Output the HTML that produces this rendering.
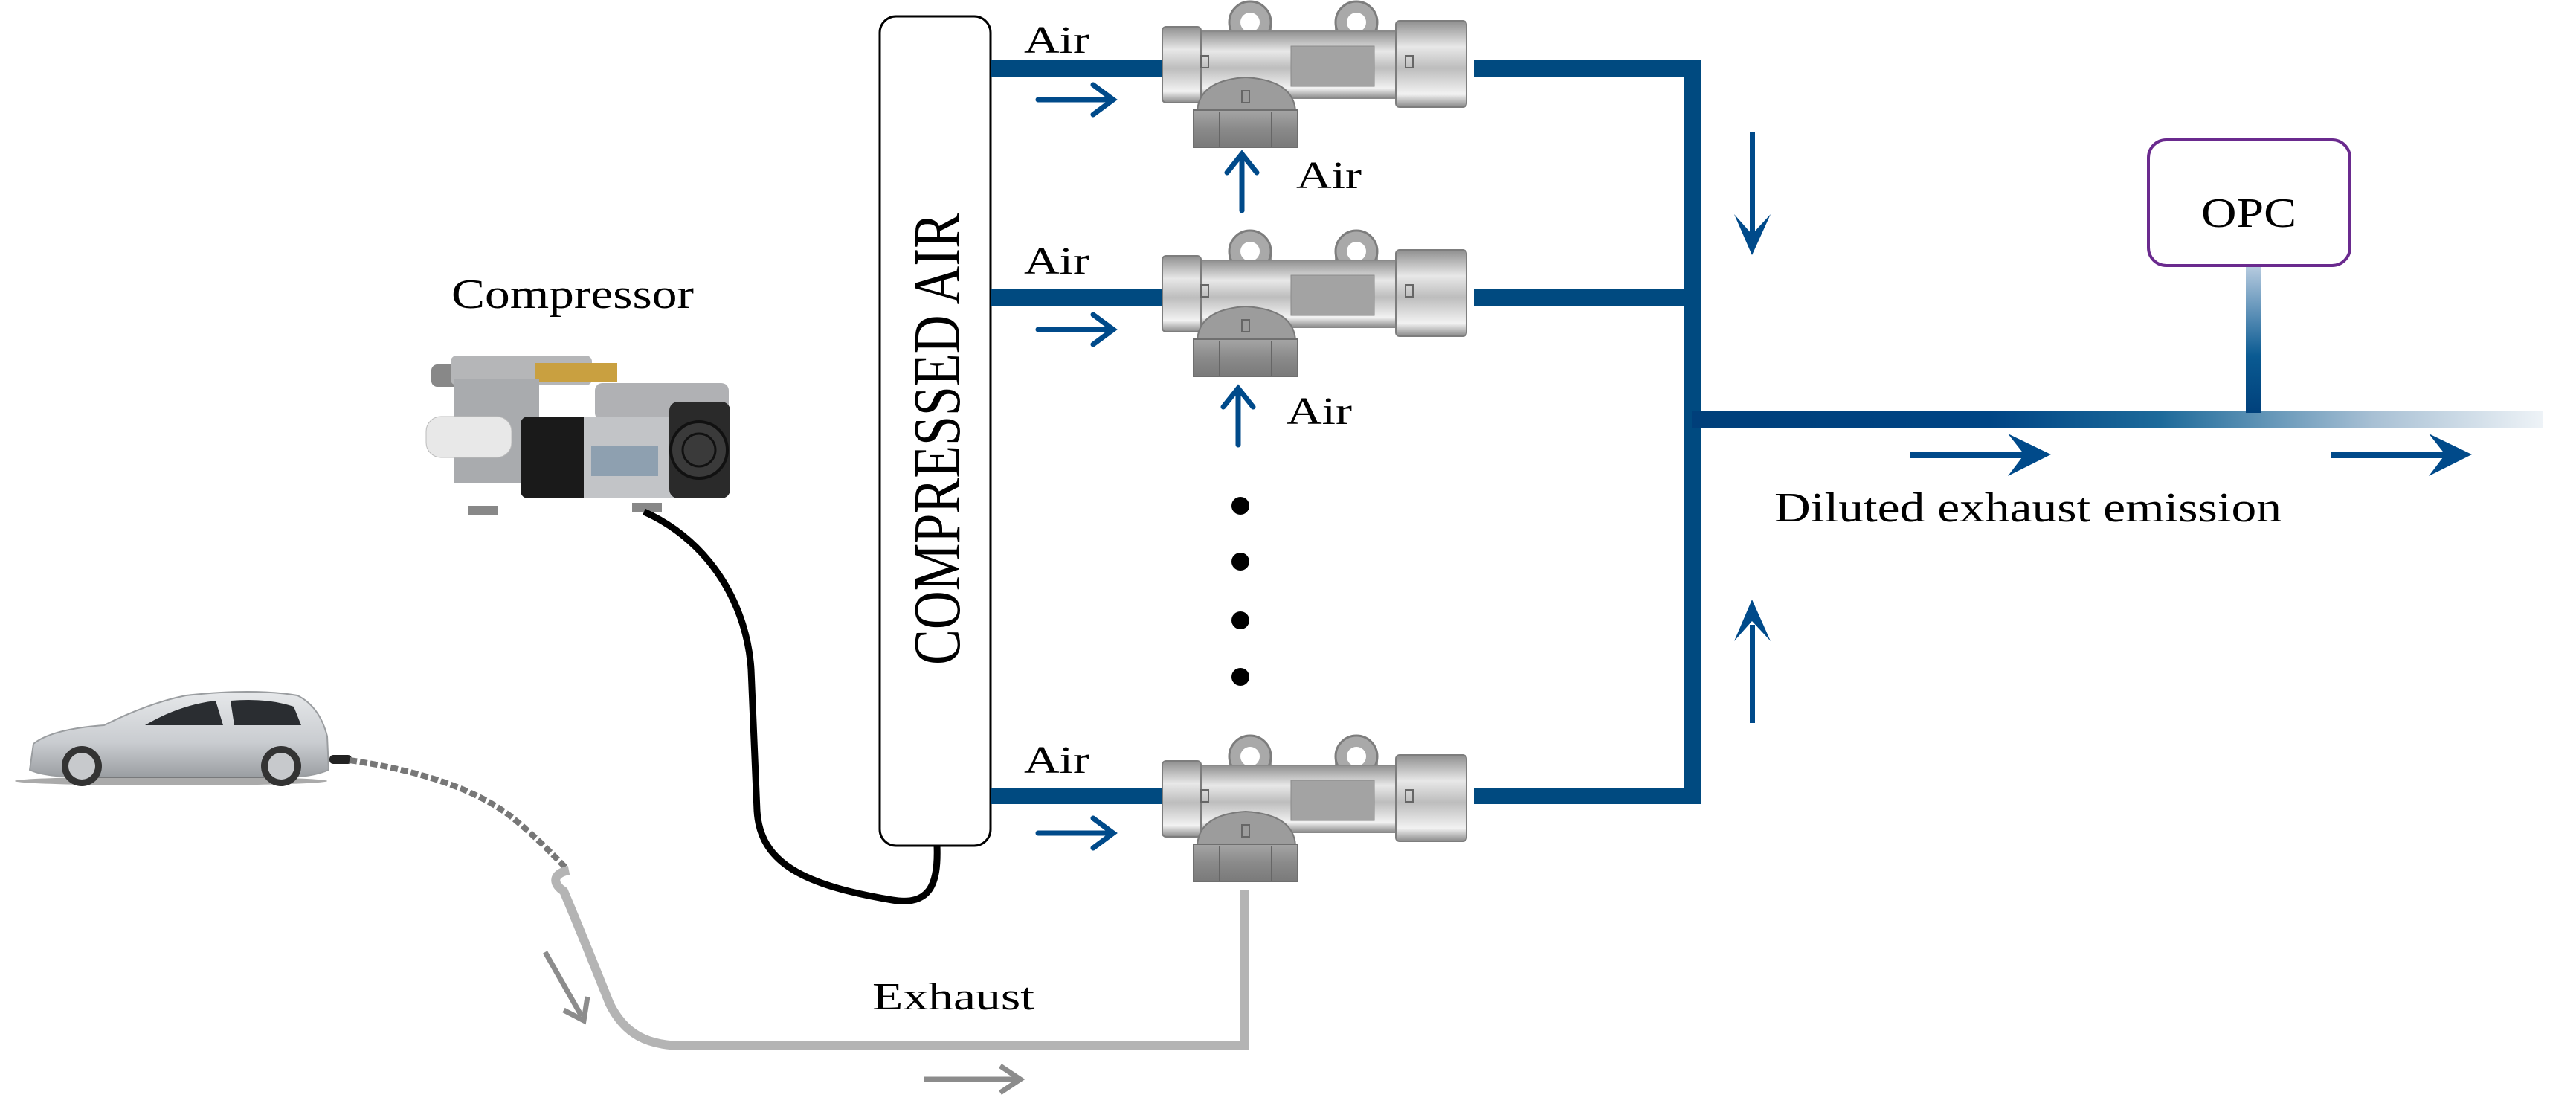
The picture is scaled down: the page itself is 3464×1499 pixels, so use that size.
<!DOCTYPE html>
<html><head><meta charset="utf-8"><style>html,body{margin:0;padding:0;background:#fff;}svg{display:block}svg text{font-family:"Liberation Serif","Times New Roman",serif;}</style></head>
<body>
<svg width="3464" height="1499" viewBox="0 0 3464 1499" xmlns="http://www.w3.org/2000/svg">
<defs>
<linearGradient id="mainG" x1="2275" y1="0" x2="3420" y2="0" gradientUnits="userSpaceOnUse">
<stop offset="0" stop-color="#003f7a"/><stop offset="0.35" stop-color="#004585"/><stop offset="0.55" stop-color="#1d6a9a"/><stop offset="0.8" stop-color="#a8c0d4"/><stop offset="1" stop-color="#eef3f7"/></linearGradient>
<linearGradient id="stemG" x1="0" y1="357" x2="0" y2="560" gradientUnits="userSpaceOnUse">
<stop offset="0" stop-color="#b8cce0"/><stop offset="0.6" stop-color="#0a5a92"/><stop offset="1" stop-color="#003f7a"/></linearGradient>
<linearGradient id="vb" x1="0" y1="0" x2="0" y2="1">
<stop offset="0" stop-color="#8f8f8f"/><stop offset="0.3" stop-color="#e8e8e8"/><stop offset="0.55" stop-color="#bdbdbd"/><stop offset="0.85" stop-color="#f2f2f2"/><stop offset="1" stop-color="#8a8a8a"/></linearGradient>
<linearGradient id="vc" x1="0" y1="0" x2="0" y2="1">
<stop offset="0" stop-color="#a5a5a5"/><stop offset="0.5" stop-color="#8a8a8a"/><stop offset="1" stop-color="#7a7a7a"/></linearGradient>
<linearGradient id="carG" x1="0" y1="0" x2="0" y2="1">
<stop offset="0" stop-color="#e6e8ea"/><stop offset="0.6" stop-color="#c9ccd0"/><stop offset="1" stop-color="#9a9ea2"/></linearGradient>
<g id="valve">
<rect x="1652" y="30" width="58" height="28" fill="#9a9a9a"/>
<circle cx="1681" cy="30" r="28" fill="#a9a9a9" stroke="#7d7d7d" stroke-width="3"/>
<circle cx="1681" cy="30" r="13" fill="#fff"/>
<rect x="1795" y="30" width="58" height="28" fill="#9a9a9a"/>
<circle cx="1824" cy="30" r="28" fill="#a9a9a9" stroke="#7d7d7d" stroke-width="3"/>
<circle cx="1824" cy="30" r="13" fill="#fff"/>
<rect x="1608" y="42" width="275" height="90" fill="url(#vb)" stroke="#8a8a8a" stroke-width="2"/>
<rect x="1736" y="62" width="112" height="54" fill="#a3a3a3" stroke="#8a8a8a"/>
<rect x="1563" y="36" width="52" height="102" rx="5" fill="url(#vb)" stroke="#7d7d7d" stroke-width="2"/>
<rect x="1877" y="28" width="95" height="116" rx="5" fill="url(#vb)" stroke="#7d7d7d" stroke-width="2"/>
<rect x="1615" y="75" width="10" height="16" fill="none" stroke="#666" stroke-width="2"/>
<rect x="1890" y="75" width="10" height="16" fill="none" stroke="#666" stroke-width="2"/>
<path d="M1610 150 Q1612 108 1675 104 Q1740 108 1742 150 Z" fill="#9c9c9c" stroke="#7a7a7a" stroke-width="2"/>
<rect x="1605" y="148" width="140" height="50" fill="url(#vc)" stroke="#6f6f6f" stroke-width="2"/>
<line x1="1640" y1="150" x2="1640" y2="197" stroke="#666" stroke-width="2"/>
<line x1="1710" y1="150" x2="1710" y2="197" stroke="#666" stroke-width="2"/>
<rect x="1670" y="122" width="10" height="16" fill="none" stroke="#666" stroke-width="2"/>
</g>
</defs>

<rect x="1183" y="22" width="149" height="1115" rx="22" fill="#fff" stroke="#000" stroke-width="3"/>
<text transform="translate(1290,590) rotate(-90)" text-anchor="middle" font-size="90" textLength="608" lengthAdjust="spacingAndGlyphs">COMPRESSED  AIR</text>

<g fill="#004a80">
<rect x="1332" y="81" width="232" height="22"/>
<rect x="1332" y="389" width="232" height="22"/>
<rect x="1332" y="1059" width="232" height="22"/>
<rect x="1982" y="81" width="304" height="22"/>
<rect x="1982" y="389" width="304" height="22"/>
<rect x="1982" y="1059" width="304" height="22"/>
<rect x="2264" y="81" width="24" height="1000"/>
</g>
<rect x="2275" y="552" width="1145" height="23" fill="url(#mainG)"/>
<rect x="3020" y="357" width="20" height="198" fill="url(#stemG)"/>
<rect x="2889" y="188" width="271" height="169" rx="24" fill="#fff" stroke="#6a2a8e" stroke-width="4"/>
<text x="3024" y="305" text-anchor="middle" font-size="56" textLength="128" lengthAdjust="spacingAndGlyphs">OPC</text>

<use href="#valve"/>
<use href="#valve" transform="translate(0,308)"/>
<use href="#valve" transform="translate(0,987)"/>

<g font-size="52">
<text x="1377" y="71" textLength="88" lengthAdjust="spacingAndGlyphs">Air</text>
<text x="1377" y="368" textLength="88" lengthAdjust="spacingAndGlyphs">Air</text>
<text x="1377" y="1039" textLength="88" lengthAdjust="spacingAndGlyphs">Air</text>
<text x="1743" y="253" textLength="88" lengthAdjust="spacingAndGlyphs">Air</text>
<text x="1730" y="570" textLength="88" lengthAdjust="spacingAndGlyphs">Air</text>
</g>

<g stroke="#004a8a" stroke-width="7" fill="none" stroke-linecap="round">
<line x1="1396" y1="134" x2="1496" y2="134"/><path d="M1470 114 L1497 134 L1470 154"/>
<line x1="1396" y1="443" x2="1496" y2="443"/><path d="M1470 423 L1497 443 L1470 463"/>
<line x1="1396" y1="1120" x2="1496" y2="1120"/><path d="M1470 1100 L1497 1120 L1470 1140"/>
<line x1="1670" y1="283" x2="1670" y2="210"/><path d="M1650 232 L1670 207 L1690 232"/>
<line x1="1665" y1="598" x2="1665" y2="525"/><path d="M1645 547 L1665 522 L1685 547"/>
</g>
<g fill="#004a8a">
<rect x="2353" y="177" width="7" height="150"/><path d="M2332 288 L2356 343 L2381 288 L2356 315 Z"/>
<rect x="2353" y="840" width="7" height="132"/><path d="M2332 862 L2356 806 L2381 862 L2356 835 Z"/>
<rect x="2568" y="607" width="160" height="9"/><path d="M2700 583 L2758 611 L2700 640 L2722 611 Z"/>
<rect x="3135" y="607" width="160" height="9"/><path d="M3266 583 L3324 611 L3266 640 L3288 611 Z"/>
</g>
<text x="2386" y="701" font-size="56" textLength="682" lengthAdjust="spacingAndGlyphs">Diluted exhaust emission</text>

<g fill="#000"><circle cx="1668" cy="680" r="12"/><circle cx="1668" cy="755" r="12"/><circle cx="1668" cy="834" r="12"/><circle cx="1668" cy="910" r="12"/></g>

<text x="607" y="414" font-size="56" textLength="326" lengthAdjust="spacingAndGlyphs">Compressor</text>
<g>
<rect x="580" y="490" width="40" height="30" rx="8" fill="#888"/>
<rect x="606" y="478" width="190" height="40" rx="8" fill="#b5b6b8"/>
<rect x="720" y="488" width="110" height="25" fill="#c9a040"/>
<rect x="610" y="510" width="115" height="140" fill="#a9abae"/>
<rect x="573" y="560" width="115" height="55" rx="20" fill="#e8e8e8" stroke="#bbb"/>
<rect x="700" y="560" width="95" height="110" rx="10" fill="#1a1a1a"/>
<rect x="800" y="515" width="180" height="50" rx="10" fill="#b0b1b4"/>
<rect x="785" y="560" width="130" height="110" fill="#c2c4c7"/>
<rect x="795" y="600" width="90" height="40" fill="#8ea0b0"/>
<rect x="900" y="540" width="82" height="130" rx="12" fill="#2a2a2a"/>
<circle cx="940" cy="605" r="38" fill="#3a3a3a" stroke="#111" stroke-width="4"/>
<circle cx="940" cy="605" r="22" fill="none" stroke="#111" stroke-width="3"/>
<rect x="630" y="680" width="40" height="12" fill="#888"/>
<rect x="850" y="676" width="40" height="12" fill="#888"/>
</g>
<path d="M866 688 C960 730 1005 820 1010 900 L1018 1090 C1022 1160 1080 1190 1200 1210 C1250 1218 1262 1190 1260 1137" fill="none" stroke="#000" stroke-width="9"/>

<g>
<path d="M40 1035 L45 1000 Q70 980 140 975 Q200 945 250 935 Q340 925 400 935 Q430 950 440 990 L442 1035 Q420 1045 380 1045 L120 1045 Q60 1045 40 1035 Z" fill="url(#carG)" stroke="#9a9da0" stroke-width="2"/>
<path d="M195 975 Q240 948 290 942 L300 975 Z M310 942 Q360 938 395 950 L405 975 L315 975 Z" fill="#2a2d31"/>
<ellipse cx="230" cy="1050" rx="210" ry="6" fill="#555" opacity="0.5"/>
<circle cx="110" cy="1030" r="27" fill="#333"/><circle cx="110" cy="1030" r="18" fill="#c7c9cc"/>
<circle cx="378" cy="1030" r="27" fill="#333"/><circle cx="378" cy="1030" r="18" fill="#c7c9cc"/>
<rect x="443" y="1015" width="30" height="12" rx="5" fill="#222"/>
</g>
<path d="M470 1022 C560 1035 640 1060 690 1100 C720 1125 740 1145 762 1168" fill="none" stroke="#777" stroke-width="8" stroke-dasharray="10 4"/>
<path d="M765 1170 C740 1175 745 1190 758 1198 C780 1250 800 1300 820 1350 C840 1390 870 1406 920 1406 L1674 1406 L1674 1196" fill="none" stroke="#b4b4b4" stroke-width="12"/>
<g stroke="#8c8c8c" stroke-width="7" fill="none">
<line x1="733" y1="1280" x2="782" y2="1366"/><path d="M758 1358 L785 1372 L790 1340"/>
<line x1="1242" y1="1451" x2="1370" y2="1451"/><path d="M1345 1433 L1372 1451 L1345 1469"/>
</g>
<text x="1173" y="1357" font-size="52" textLength="218" lengthAdjust="spacingAndGlyphs">Exhaust</text>
</svg>
</body></html>
